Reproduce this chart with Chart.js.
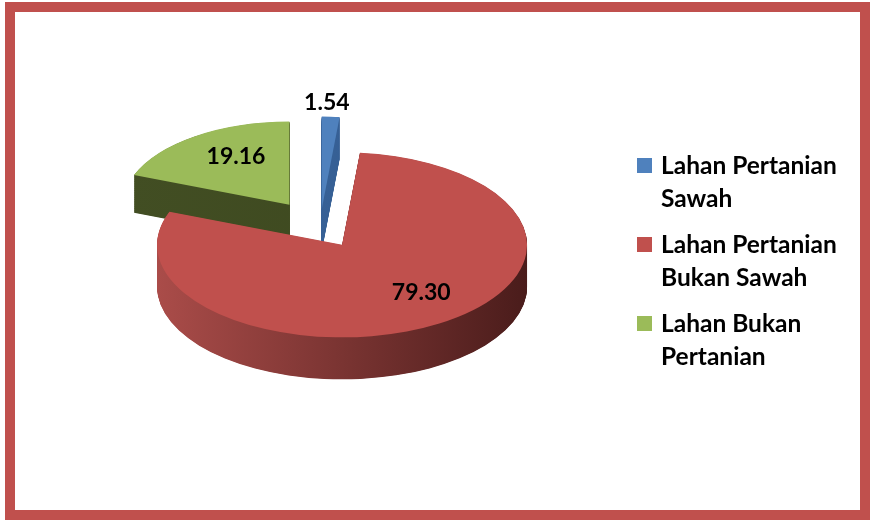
<!DOCTYPE html>
<html><head><meta charset="utf-8">
<script src="https://cdn.jsdelivr.net/npm/chart.js@4.4.0/dist/chart.umd.min.js"></script>
<style>
html,body{margin:0;padding:0;background:#fff;width:870px;height:520px;overflow:hidden;}
#wrap{position:relative;width:870px;height:520px;}
#frame{position:absolute;left:5px;top:2px;width:865px;height:518px;box-sizing:border-box;border:10px solid #C0504D;pointer-events:none;}
#c{position:absolute;left:0;top:0;}
#legend{position:absolute;left:637px;top:148px;font-family:Lato,"Open Sans",sans-serif;font-weight:bold;color:#000;}
.item{position:relative;height:79px;}
.sw{position:absolute;left:0;top:10px;width:15px;height:15px;}
.tx{position:absolute;left:24px;top:0;line-height:33px;white-space:nowrap;}
</style></head>
<body><div id="wrap"><canvas id="c" width="870" height="520"></canvas><div id="legend"></div><div id="frame"></div></div>
<script>
// ---- data ----
const categories = [['Lahan Pertanian', 'Sawah'], ['Lahan Pertanian', 'Bukan Sawah'], ['Lahan Bukan', 'Pertanian']];
const values = [1.54, 79.30, 19.16];
const valueLabels = ['1.54', '79.30', '19.16'];

// ---- style ----
const topColors = ['#4F81BD', '#C0504D', '#9BBB59'];
const sideColors = [['#3E6AA3', '#2F5789'], ['#AA4C49', '#4A1C1B'], ['#424E23', '#3D481F']];
const explode = [36, 42, 54];          // radial pull-out of each slice (px, before tilt)
const depthScale = [1, 1, 0.9];        // farther slices drawn a bit smaller (perspective)
const labelRadius = [1.146, 0.67, 0.658];
const labelAngle = [-1.4, -8, 5.3];    // degrees
const view = { tx: 320, ty: 227, k: 0.5, depth: 42 };

function shift(a, i) {
  const half = (a.startAngle + a.endAngle) / 2;
  return { dx: Math.cos(half) * explode[i], dy: Math.sin(half) * explode[i], half };
}
function sliceTransform(ctx, a, i) {
  const d = shift(a, i);
  const s = depthScale[i];
  ctx.translate(a.x + d.dx, a.y + d.dy);
  ctx.scale(s, s);
  ctx.translate(-a.x, -a.y);
}

const pie3d = {
  id: 'pie3d',
  beforeDatasetsDraw(chart) {
    const ctx = chart.ctx;
    const arcs = chart.getDatasetMeta(0).data;
    const cx = arcs[0].x, cy = arcs[0].y;
    ctx.save();
    ctx.translate(view.tx, view.ty);
    ctx.scale(1, view.k);
    ctx.translate(-cx, -cy);
    const D = view.depth / view.k;
    const order = arcs.map((a, i) => i).sort((i, j) => shift(arcs[i], i).dy - shift(arcs[j], j).dy);
    // side walls: extruded copies of each slice, back to front
    for (const i of order) {
      const a = arcs[i];
      const R = a.outerRadius;
      ctx.save();
      sliceTransform(ctx, a, i);
      const g = ctx.createLinearGradient(a.x - R, 0, a.x + R, 0);
      g.addColorStop(0, sideColors[i][0]);
      g.addColorStop(1, sideColors[i][1]);
      ctx.fillStyle = g;
      for (let s = D; s > 0; s -= 1) {
        ctx.beginPath();
        ctx.moveTo(a.x, a.y + s);
        ctx.arc(a.x, a.y + s, R, a.startAngle, a.endAngle);
        ctx.closePath();
        ctx.fill();
      }
      ctx.restore();
    }
    // top faces: drawn by the library's own arc elements
    arcs.forEach((a, i) => {
      ctx.save();
      sliceTransform(ctx, a, i);
      a.draw(ctx);
      ctx.restore();
    });
    ctx.restore();
    return false;
  },
  afterDraw(chart) {
    const ctx = chart.ctx;
    const arcs = chart.getDatasetMeta(0).data;
    const cx = arcs[0].x, cy = arcs[0].y;
    ctx.save();
    ctx.font = 'bold 23px Lato, "Open Sans", sans-serif';
    ctx.fillStyle = '#000';
    ctx.textAlign = 'center';
    ctx.textBaseline = 'middle';
    arcs.forEach((a, i) => {
      const d = shift(a, i);
      const ang = d.half + labelAngle[i] * Math.PI / 180;
      const r = a.outerRadius * depthScale[i] * labelRadius[i];
      const ux = a.x + d.dx + Math.cos(ang) * r;
      const uy = a.y + d.dy + Math.sin(ang) * r;
      ctx.fillText(valueLabels[i], view.tx + (ux - cx), view.ty + (uy - cy) * view.k);
    });
    ctx.restore();
  }
};

new Chart(document.getElementById('c'), {
  type: 'pie',
  data: {
    labels: categories.map(c => c.join(' ')),
    datasets: [{
      data: values,
      backgroundColor: topColors,
      borderWidth: 0,
      radius: 185
    }]
  },
  options: {
    responsive: false,
    animation: false,
    devicePixelRatio: 1,
    events: [],
    layout: { padding: 0 },
    plugins: { legend: { display: false }, tooltip: { enabled: false } }
  },
  plugins: [pie3d]
});

// ---- HTML legend ----
(function () {
  const m = document.createElement('canvas').getContext('2d');
  m.font = 'bold 100px Lato, "Open Sans", sans-serif';
  const w = m.measureText('Lahan Pertanian').width;
  const size = Math.round(176 / w * 1000) / 10;
  const leg = document.getElementById('legend');
  leg.style.fontSize = size + 'px';
  categories.forEach((c, i) => {
    const it = document.createElement('div');
    it.className = 'item';
    const sw = document.createElement('div');
    sw.className = 'sw';
    sw.style.background = topColors[i];
    const tx = document.createElement('div');
    tx.className = 'tx';
    tx.innerHTML = c.join('<br>');
    it.appendChild(sw);
    it.appendChild(tx);
    leg.appendChild(it);
  });
})();
</script>
</body></html>
